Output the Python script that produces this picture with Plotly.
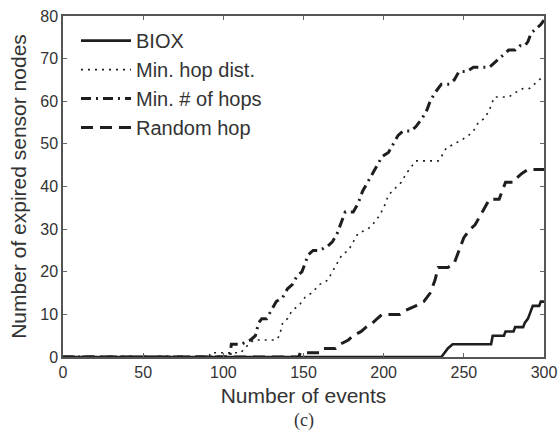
import plotly.graph_objects as go

# ---- data ----
biox_x = [0, 236, 238, 240, 243, 267, 268, 275, 276, 281, 282, 287, 288, 290, 291, 293, 297, 298, 300]
biox_y = [0, 0, 1, 2, 3, 3, 5, 5, 6, 6, 7, 7, 8, 9, 10, 12, 12, 13, 13]

hopdist_x = [0, 91, 92, 111, 113, 116, 119, 133, 135, 137, 140, 143, 147, 151, 155, 160, 165, 168, 171, 174,
             178, 181, 184, 190, 193, 197, 200, 203, 208, 211, 214, 218, 220, 234, 236, 239, 244, 249, 253, 256,
             259, 263, 266, 269, 278, 282, 287, 291, 294, 297, 300]
hopdist_y = [0, 0, 1, 1, 2, 3, 4, 4, 5, 8, 9, 11, 12, 14, 15, 17, 18, 20, 22, 24,
             25, 27, 29, 30, 31, 33, 35, 38, 40, 41, 43, 45, 46, 46, 47, 49, 50, 51, 52, 53,
             55, 56, 58, 61, 61, 62, 63, 63, 64, 65, 66]

minhops_x = [0, 104, 105, 111, 117, 120, 122, 124, 127, 130, 133, 137, 140, 143, 146, 149, 151, 153, 156, 160,
             165, 168, 171, 173, 176, 181, 184, 187, 190, 193, 196, 199, 203, 206, 209, 212, 217, 220, 224, 227,
             229, 232, 236, 241, 244, 247, 252, 256, 263, 266, 269, 272, 275, 278, 282, 285, 288, 290, 292, 295,
             298, 300]
minhops_y = [0, 0, 3, 3, 4, 5, 8, 9, 9, 11, 13, 14, 16, 17, 19, 20, 22, 24, 25, 25,
             26, 27, 29, 31, 34, 34, 36, 39, 41, 43, 45, 47, 48, 50, 52, 53, 53, 54, 56, 58,
             60, 62, 64, 64, 65, 67, 67, 68, 68, 68, 69, 70, 71, 72, 72, 73, 73, 74, 76, 77,
             78, 79]

random_x = [0, 147, 148, 160, 162, 170, 173, 178, 181, 186, 189, 193, 196, 199, 210, 214, 220, 225, 229, 232,
            234, 240, 244, 246, 248, 250, 254, 257, 260, 263, 266, 272, 274, 276, 281, 283, 286, 290, 300]
random_y = [0, 0, 1, 1, 2, 2, 3, 4, 5, 6, 7, 8, 9, 10, 10, 11, 12, 13, 15, 18,
            21, 21, 22, 24, 26, 28, 30, 31, 33, 35, 37, 37, 39, 41, 41, 42, 43, 44, 44]

names = ["BIOX", "Min. hop dist.", "Min. # of hops", "Random hop"]
x_ticks = [0, 50, 100, 150, 200, 250, 300]
y_ticks = [0, 10, 20, 30, 40, 50, 60, 70, 80]

INK = "#1e1e1e"
TXT = "#333333"
FONT = "Liberation Sans, Arial, sans-serif"

fig = go.Figure()
fig.add_trace(go.Scatter(x=biox_x, y=biox_y, mode="lines", name=names[0],
                         line=dict(color=INK, width=2.6)))
fig.add_trace(go.Scatter(x=hopdist_x, y=hopdist_y, mode="lines", name=names[1],
                         line=dict(color=INK, width=1.6, dash="2px,5px")))
fig.add_trace(go.Scatter(x=minhops_x, y=minhops_y, mode="lines", name=names[2],
                         line=dict(color=INK, width=3, dash="10px,5px,2px,5px")))
fig.add_trace(go.Scatter(x=random_x, y=random_y, mode="lines", name=names[3],
                         line=dict(color=INK, width=3, dash="12px,7px")))

axis_common = dict(
    showline=True, linecolor="#555555", linewidth=1.5, mirror="ticks",
    ticks="inside", ticklen=4, tickcolor="#666666", tickwidth=1,
    showgrid=False, zeroline=False, automargin=False,
    tickfont=dict(family=FONT, size=16, color=TXT),
)

fig.update_layout(
    width=558, height=432,
    margin=dict(l=63, r=14, t=16, b=75),
    paper_bgcolor="white", plot_bgcolor="white",
    font=dict(family=FONT, color=TXT),
    xaxis=dict(range=[0, 300], tickvals=x_ticks, **axis_common,
               title=dict(text="Number of events", font=dict(family=FONT, size=21, color=TXT), standoff=8)),
    yaxis=dict(range=[0, 80], tickvals=y_ticks, **axis_common,
               title=dict(text="Number of expired sensor nodes", font=dict(family=FONT, size=21, color=TXT), standoff=8)),
    legend=dict(x=0.027, y=0.985, xanchor="left", yanchor="top",
                bgcolor="rgba(0,0,0,0)", borderwidth=0,
                font=dict(family=FONT, size=20, color=TXT),
                itemwidth=50, tracegroupgap=0),
    showlegend=True,
    annotations=[dict(text="(c)", xref="paper", yref="paper", x=0.5, y=-0.15,
                      xanchor="center", yanchor="top", showarrow=False,
                      font=dict(family="Liberation Serif, Times New Roman, serif", size=18, color=TXT))],
)

fig.write_html("out.html", config={"displayModeBar": False},
               post_script="document.body.style.margin='0';document.body.style.overflow='hidden';")
